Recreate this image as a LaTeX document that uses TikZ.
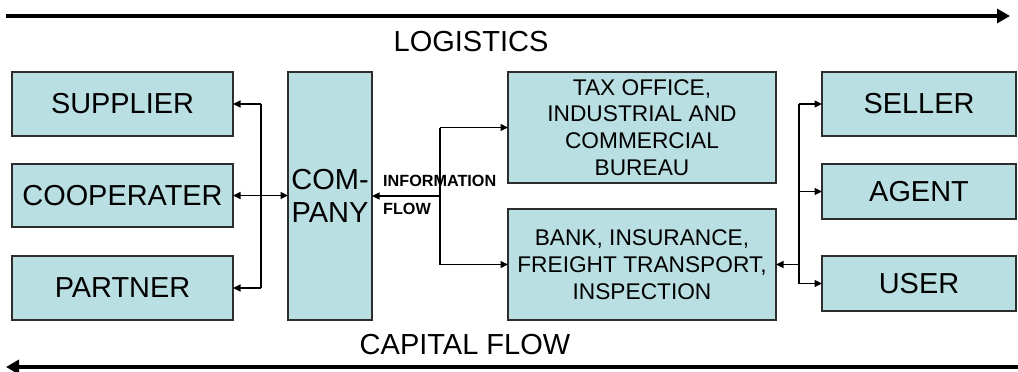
\documentclass[tikz,border=0pt]{standalone}
\usepackage{fontspec}
\setmainfont{Liberation Sans}
\usetikzlibrary{arrows.meta}
\definecolor{boxfill}{RGB}{185,223,226}
\definecolor{boxline}{RGB}{45,45,45}
\tikzset{
  box/.style={draw=boxline, line width=1.3pt, fill=boxfill, anchor=north west,
    inner sep=0pt, outer sep=0pt, align=center, text=black},
  bigtext/.style={font=\fontsize{28.9}{30}\selectfont},
  midtext/.style={font=\fontsize{22.7}{26.7}\selectfont},
  conn/.style={line width=1.4pt, draw=black},
  tip/.style={-{Triangle[length=7.5pt,width=7pt]}},
  bigarrow/.style={line width=4pt, -{Triangle[length=13pt,width=14pt]}},
  label/.style={inner sep=0pt, font=\fontsize{29}{30}\selectfont},
  info/.style={inner sep=0pt, anchor=west, font=\bfseries\fontsize{16.2}{17}\selectfont},
}
\begin{document}
\begin{tikzpicture}[x=1pt,y=-1pt]
\useasboundingbox (0,0) rectangle (1018,372);
% big arrows
\coordinate (t1) at (6,16);
\coordinate (t2) at (1010,16);
\draw[bigarrow] (t1) -- (t2);
\node[label] (logi) at (471,42) {LOGISTICS};
\coordinate (b1) at (1018,367);
\coordinate (b2) at (6,367);
\draw[bigarrow] (b1) -- (b2);
\node[label] (cap) at (465,345) {CAPITAL FLOW};
% boxes
\node[box,bigtext,minimum width=221pt,minimum height=64pt] (sup) at (12,72) {SUPPLIER};
\node[box,bigtext,minimum width=221pt,minimum height=63pt] (coo) at (12,164) {COOPERATER};
\node[box,bigtext,minimum width=221pt,minimum height=64pt] (par) at (12,256) {PARTNER};
\node[box,minimum width=84pt,minimum height=248pt,font=\fontsize{29}{33}\selectfont] (com) at (288,72) {COM-\\PANY};
\node[box,midtext,minimum width=268pt,minimum height=111pt] (tax) at (508,72) {TAX OFFICE,\\INDUSTRIAL AND\\COMMERCIAL\\BUREAU};
\node[box,midtext,minimum width=268pt,minimum height=111pt] (bank) at (508,209) {BANK, INSURANCE,\\FREIGHT TRANSPORT,\\INSPECTION};
\node[box,bigtext,minimum width=194pt,minimum height=64pt] (sel) at (822,72) {SELLER};
\node[box,bigtext,minimum width=194pt,minimum height=55pt] (age) at (822,164) {AGENT};
\node[box,bigtext,minimum width=194pt,minimum height=55pt] (use) at (822,256) {USER};
% left connectors
\coordinate (l1) at (261,104);
\coordinate (l3) at (261,288);
\draw[conn] (l1) -- (l3);
\draw[conn,tip] (l1) -- (sup.east);
\draw[conn,tip] (l3) -- (par.east |- l3);
\draw[conn,{Triangle[length=7.5pt,width=7pt]}-{Triangle[length=7.5pt,width=7pt]}] (coo.east) -- (com.west |- coo.east);
% middle connectors
\coordinate (m1) at (440,127.5);
\coordinate (m2) at (440,264.5);
\coordinate (mj) at (440,196);
\draw[conn] (m1) -- (m2);
\draw[conn,tip] (mj) -- (com.east);
\draw[conn,tip] (m1) -- (tax.west);
\draw[conn,tip] (m2) -- (bank.west);
\node[info] (inf1) at (383,181) {INFORMATION};
\node[info] (inf2) at (383,209) {FLOW};
% right connectors
\coordinate (r1) at (799,104);
\coordinate (r3) at (799,283.5);
\coordinate (rj) at (799,264.5);
\draw[conn] (r1) -- (r3);
\draw[conn,tip] (rj) -- (bank.east);
\draw[conn,tip] (r1) -- (sel.west);
\draw[conn,tip] (r1 |- age.west) -- (age.west);
\draw[conn,tip] (r3) -- (use.west);
\end{tikzpicture}
\end{document}
